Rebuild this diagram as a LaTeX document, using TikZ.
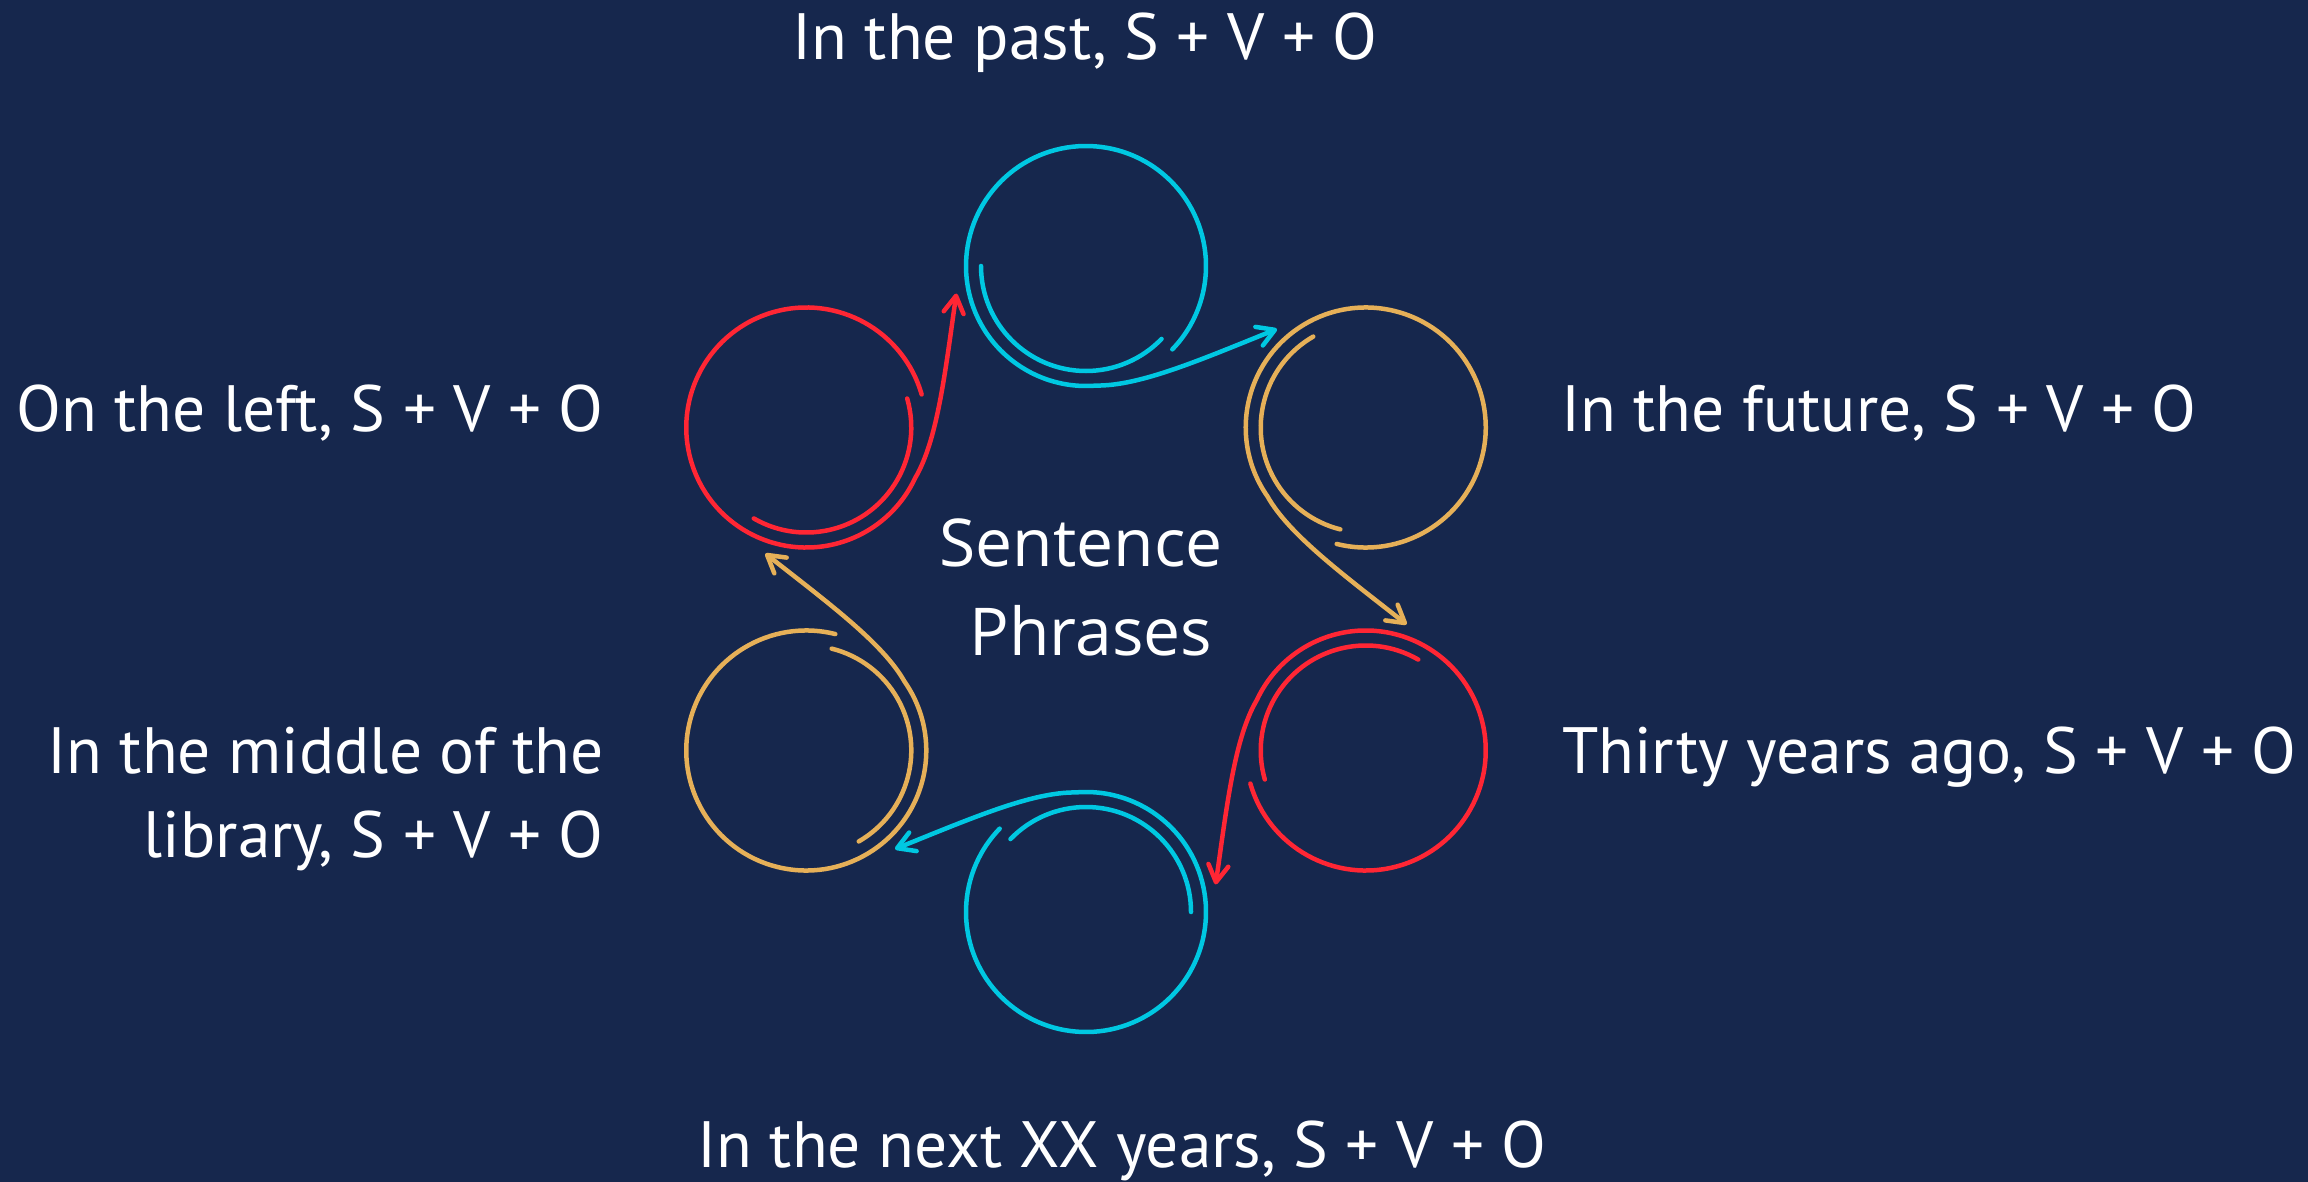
\documentclass[tikz,border=0pt]{standalone}
\usepackage{fontspec}
\setmainfont{PT Sans}
\newfontfamily\centerfont{Open Sans}
\usetikzlibrary{arrows.meta}
\definecolor{bg}{RGB}{22,39,77}
\definecolor{ccyan}{RGB}{0,200,226}
\definecolor{corange}{RGB}{230,176,88}
\definecolor{cred}{RGB}{255,38,52}
\tikzset{
  spiral/.style={line width=4.5pt, line cap=round},
  barb/.style={-{Straight Barb[length=17pt,width=20pt,round]}},
  lbl/.style={text=white, font=\fontsize{65.5}{78}\selectfont, inner sep=0pt},
  ctr/.style={text=white, font=\centerfont\fontsize{66}{78}\selectfont, inner sep=0pt, align=center}
}
\newcommand{\spiralunit}[3]{%
  \begin{scope}[shift={(#1)}, rotate=#2]
    \draw[spiral, #3, barb] (-44:120) arc[start angle=-44, end angle=275, radius=120]
      .. controls (54,-120) and (114,-94) .. (191,-63);
    \draw[spiral, #3] (180:105) arc[start angle=180, end angle=316, radius=105];
  \end{scope}}
\begin{document}
\begin{tikzpicture}[x=1pt,y=1pt]
\fill[bg] (0,0) rectangle (2308,-1182);
\path[use as bounding box] (0,0) rectangle (2308,-1182);
\coordinate (c0) at (1086,-266);
\coordinate (c1) at ({1086+323*sin(60)},{-589+323*cos(60)});
\coordinate (c2) at ({1086+323*sin(120)},{-589+323*cos(120)});
\coordinate (c3) at (1086,{-589-323});
\coordinate (c4) at ({1086+323*sin(240)},{-589+323*cos(240)});
\coordinate (c5) at ({1086+323*sin(300)},{-589+323*cos(300)});
\spiralunit{c0}{0}{ccyan}
\spiralunit{c1}{-60}{corange}
\spiralunit{c2}{-120}{cred}
\spiralunit{c3}{-180}{ccyan}
\spiralunit{c4}{-240}{corange}
\spiralunit{c5}{-300}{cred}
\node[lbl, anchor=base] (tpast) at (1085,-60) {In the past, S + V + O};
\node[lbl, anchor=base west] (tfuture) at (1561,-431) {In the future, S + V + O};
\node[lbl, anchor=base west] (tthirty) at (1562,-773) {Thirty years ago, S + V + O};
\node[lbl, anchor=base east] (tleft) at (604,-431) {On the left, S + V + O};
\node[lbl, anchor=base east] (tmid1) at (604,-773) {In the middle of the};
\node[lbl, anchor=base east] (tmid2) at (604,-857) {library, S + V + O};
\node[lbl, anchor=base] (tnext) at (1122,-1167) {In the next XX years, S + V + O};
\node[ctr, anchor=base] (tsent) at (1081,-566) {Sentence};
\node[ctr, anchor=base] (tphr) at (1091,-655) {Phrases};
\end{tikzpicture}
\end{document}
